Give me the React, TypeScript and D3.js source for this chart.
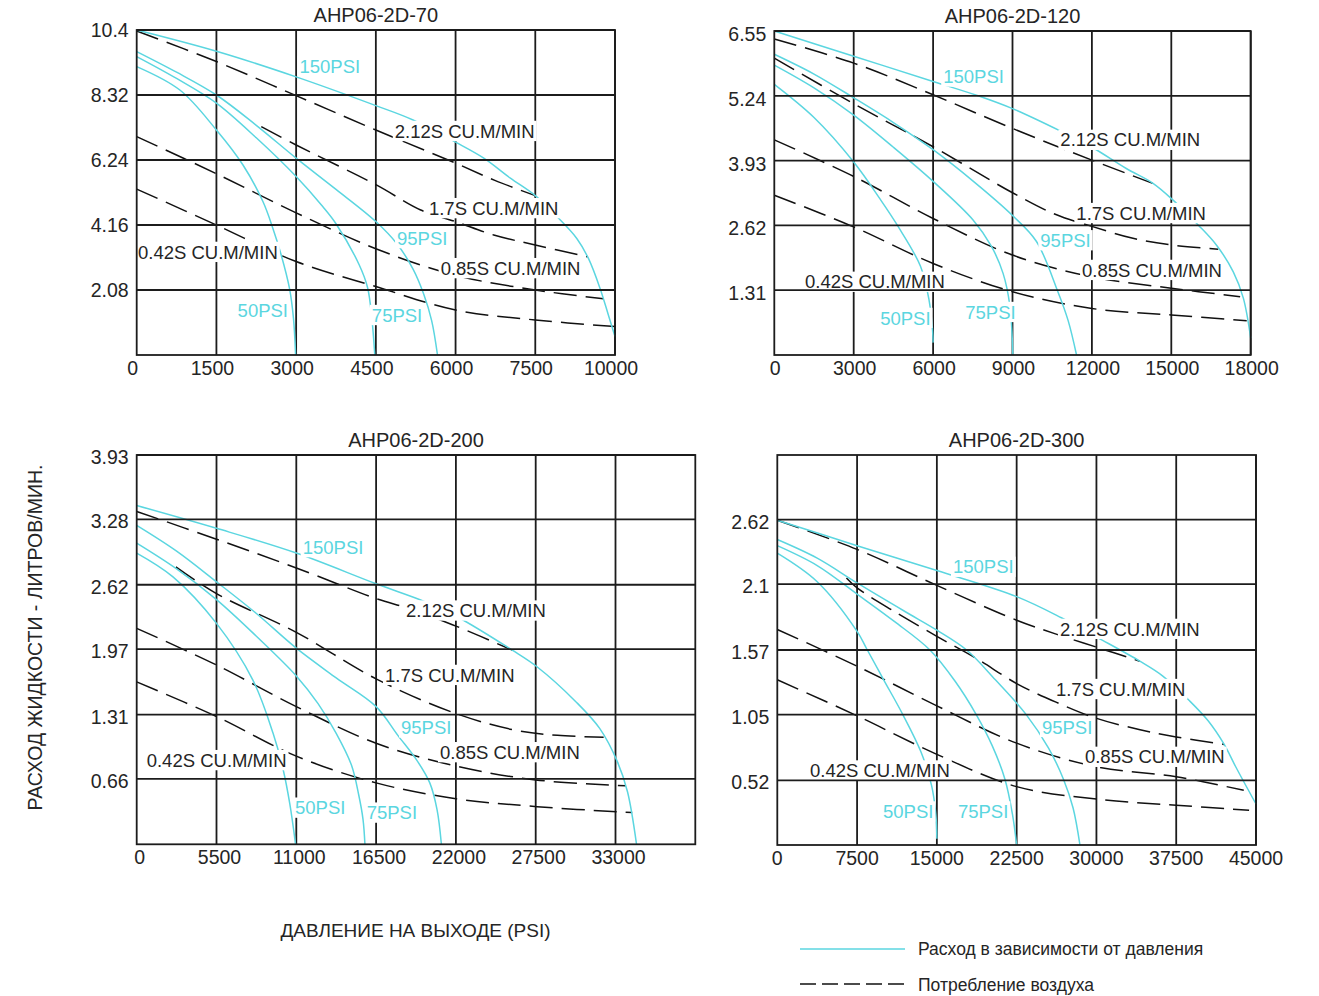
import React, { useEffect, useRef } from "react";
import * as d3 from "d3";

type Pt = [number, number];
type Label = [string, number, number];

// ---------------- AHP06-2D-70 ----------------
const P1_TITLE = "AHP06-2D-70";
const P1_X_DOMAIN = [0, 7500, 10000];
const P1_X_TICKS = [0, 1500, 3000, 4500, 6000, 7500, 10000];
const P1_Y_MAX = 10.4;
const P1_Y_TICKS = [2.08, 4.16, 6.24, 8.32, 10.4];
const P1_FLOW_50: Pt[] = [[0, 9.23], [812, 8.48], [1500, 7.2], [2000, 6.08], [2375, 4.91], [2563, 4.05], [2719, 3.2], [2875, 2.13], [2950, 1.17], [2990, 0]];
const P1_FLOW_75: Pt[] = [[0, 9.55], [750, 8.85], [1500, 8.06], [2250, 6.95], [3000, 5.71], [3500, 4.75], [3750, 4.2], [4188, 2.88], [4344, 2.16], [4425, 1.17], [4480, 0]];
const P1_FLOW_95: Pt[] = [[0, 9.71], [750, 9.05], [1500, 8.32], [2250, 7.35], [3000, 6.3], [3750, 5.3], [4500, 4.27], [4900, 3.55], [5200, 2.75], [5400, 1.95], [5550, 1.1], [5660, 0]];
const P1_FLOW_150: Pt[] = [[0, 10.4], [1500, 9.72], [3000, 8.9], [4500, 7.98], [5200, 7.52], [6000, 6.81], [6531, 6.3], [7031, 5.66], [7500, 5.1], [8177, 4.43], [8802, 3.73], [9167, 3.09], [9532, 2.13], [9792, 1.28], [10000, 0.59]];
const P1_AIR_212: Pt[] = [[0, 10.37], [1500, 9.39], [3000, 8.3], [4500, 7.2], [6000, 6.14], [6750, 5.58], [7500, 5.1]];
const P1_AIR_170: Pt[] = [[2344, 7.31], [3000, 6.72], [4500, 5.45], [5344, 4.64], [6000, 4.27], [6719, 3.84], [7500, 3.52], [9140, 3.14]];
const P1_AIR_085: Pt[] = [[0, 6.99], [1500, 5.8], [3000, 4.55], [4500, 3.4], [6000, 2.55], [7500, 2.08], [9640, 1.8]];
const P1_AIR_042: Pt[] = [[0, 5.31], [1500, 4.16], [3000, 2.99], [4500, 2.19], [6000, 1.44], [7500, 1.12], [10000, 0.91]];
const P1_LABELS: Label[] = [
  ["150PSI", 3062, 9.25], ["2.12S CU.M/MIN", 4856, 7.17], ["1.7S CU.M/MIN", 5499, 4.7],
  ["95PSI", 4899, 3.74], ["0.85S CU.M/MIN", 5719, 2.78], ["0.42S CU.M/MIN", 24, 3.3],
  ["50PSI", 1899, 1.44], ["75PSI", 4425, 1.28],
];

// ---------------- AHP06-2D-120 ----------------
const P2_TITLE = "AHP06-2D-120";
const P2_X_DOMAIN = [0, 18000];
const P2_X_TICKS = [0, 3000, 6000, 9000, 12000, 15000, 18000];
const P2_Y_MAX = 6.55;
const P2_Y_TICKS = [1.31, 2.62, 3.93, 5.24, 6.55];
const P2_FLOW_50: Pt[] = [[0, 5.47], [1500, 4.8], [3000, 3.9], [4000, 3.15], [4676, 2.6], [5527, 1.79], [5850, 1.1], [5980, 0.5], [6000, 0.25]];
const P2_FLOW_75: Pt[] = [[0, 5.86], [1500, 5.4], [3000, 4.85], [4500, 4.2], [6000, 3.51], [7510, 2.73], [8200, 2.2], [8644, 1.65], [8900, 1.0], [9013, 0]];
const P2_FLOW_95: Pt[] = [[0, 6.08], [1500, 5.68], [3000, 5.2], [4500, 4.7], [6000, 4.15], [7500, 3.52], [9000, 2.82], [9900, 2.3], [10700, 1.3], [11100, 0.7], [11420, 0]];
const P2_FLOW_150: Pt[] = [[0, 6.55], [3000, 6.04], [6000, 5.53], [7700, 5.24], [9000, 4.98], [10800, 4.53], [12034, 4.19], [13298, 3.77], [14309, 3.47], [15067, 3.13], [16015, 2.63], [16710, 2.22], [17342, 1.68], [17722, 1.15], [18000, 0.34]];
const P2_AIR_212: Pt[] = [[0, 6.39], [3000, 5.9], [6000, 5.26], [9000, 4.58], [12000, 3.94], [14300, 3.47]];
const P2_AIR_170: Pt[] = [[0, 6.0], [3000, 5.08], [6000, 4.21], [9000, 3.28], [10590, 2.85], [12000, 2.6], [13550, 2.36], [15067, 2.22], [16774, 2.14]];
const P2_AIR_085: Pt[] = [[0, 4.35], [3000, 3.61], [6000, 2.76], [9000, 2.02], [12000, 1.58], [15000, 1.35], [17600, 1.18]];
const P2_AIR_042: Pt[] = [[0, 3.23], [3000, 2.59], [6000, 1.85], [9000, 1.28], [12000, 0.94], [15000, 0.81], [17850, 0.69]];
const P2_LABELS: Label[] = [
  ["150PSI", 6382, 5.63], ["2.12S CU.M/MIN", 10808, 4.35], ["1.7S CU.M/MIN", 11413, 2.87],
  ["95PSI", 10052, 2.32], ["0.85S CU.M/MIN", 11629, 1.72], ["0.42S CU.M/MIN", 1161, 1.48],
  ["50PSI", 3999, 0.75], ["75PSI", 7214, 0.87],
];

// ---------------- AHP06-2D-200 ----------------
const P3_TITLE = "AHP06-2D-200";
const P3_X_DOMAIN = [0, 38500];
const P3_X_TICKS = [0, 5500, 11000, 16500, 22000, 27500, 33000];
const P3_Y_MAX = 3.93;
const P3_Y_TICKS = [0.66, 1.31, 1.97, 2.62, 3.28, 3.93];
const P3_FLOW_50: Pt[] = [[0, 2.94], [2500, 2.7], [5500, 2.23], [8000, 1.66], [9400, 1.12], [10100, 0.75], [10550, 0.41], [10950, 0]];
const P3_FLOW_75: Pt[] = [[0, 3.04], [2750, 2.78], [5500, 2.47], [8250, 2.1], [11000, 1.7], [12500, 1.42], [13750, 1.12], [14800, 0.8], [15300, 0.5], [15600, 0.25], [15730, 0]];
const P3_FLOW_95: Pt[] = [[0, 3.22], [2750, 2.96], [5500, 2.65], [8250, 2.33], [11000, 1.98], [13750, 1.68], [16500, 1.39], [18000, 1.1], [19300, 0.85], [20200, 0.62], [20700, 0.35], [21000, 0]];
const P3_FLOW_150: Pt[] = [[0, 3.42], [5500, 3.19], [11000, 2.94], [16500, 2.63], [19860, 2.45], [22050, 2.3], [25884, 1.96], [27610, 1.79], [30266, 1.44], [31909, 1.17], [33142, 0.83], [33827, 0.53], [34450, 0]];
const P3_AIR_212: Pt[] = [[0, 3.36], [5500, 3.08], [11000, 2.79], [16500, 2.48], [18760, 2.38], [22050, 2.2], [25884, 1.96]];
const P3_AIR_170: Pt[] = [[2700, 2.8], [5500, 2.53], [11000, 2.14], [16500, 1.67], [22000, 1.32], [26158, 1.15], [29000, 1.1], [32184, 1.08]];
const P3_AIR_085: Pt[] = [[0, 2.18], [5500, 1.81], [11000, 1.39], [16500, 1.02], [22000, 0.79], [27500, 0.65], [33700, 0.59]];
const P3_AIR_042: Pt[] = [[0, 1.64], [5500, 1.29], [11000, 0.89], [16500, 0.62], [22000, 0.46], [27600, 0.38], [34150, 0.32]];
const P3_LABELS: Label[] = [
  ["150PSI", 11441, 3.0], ["2.12S CU.M/MIN", 18560, 2.36], ["1.7S CU.M/MIN", 17113, 1.71],
  ["95PSI", 18216, 1.18], ["0.85S CU.M/MIN", 20903, 0.93], ["0.42S CU.M/MIN", 689, 0.85],
  ["50PSI", 10910, 0.37], ["75PSI", 15852, 0.32],
];

// ---------------- AHP06-2D-300 ----------------
const P4_TITLE = "AHP06-2D-300";
const P4_X_DOMAIN = [0, 45000];
const P4_X_TICKS = [0, 7500, 15000, 22500, 30000, 37500, 45000];
const P4_Y_MAX = 3.14;
const P4_Y_TICKS = [0.52, 1.05, 1.57, 2.1, 2.62];
const P4_FLOW_50: Pt[] = [[0, 2.35], [3750, 2.12], [7500, 1.72], [8400, 1.58], [10000, 1.33], [11800, 1.05], [13500, 0.75], [14500, 0.48], [14900, 0.25], [15000, 0.05]];
const P4_FLOW_75: Pt[] = [[0, 2.41], [3750, 2.25], [7500, 2.02], [11000, 1.8], [14350, 1.57], [16700, 1.32], [18700, 1.05], [20200, 0.8], [21400, 0.53], [22100, 0.25], [22500, 0]];
const P4_FLOW_95: Pt[] = [[0, 2.46], [3750, 2.31], [7500, 2.11], [12000, 1.88], [15000, 1.73], [17800, 1.57], [20500, 1.33], [23400, 1.05], [25500, 0.78], [26900, 0.53], [27800, 0.3], [28450, 0]];
const P4_FLOW_150: Pt[] = [[0, 2.615], [7500, 2.41], [15000, 2.21], [22500, 2.0], [26700, 1.83], [30110, 1.67], [34077, 1.48], [36240, 1.36], [38764, 1.16], [40500, 1.0], [42009, 0.81], [43092, 0.63], [45000, 0.33]];
const P4_AIR_212: Pt[] = [[0, 2.615], [7500, 2.38], [15000, 2.09], [22500, 1.81], [26144, 1.7], [30110, 1.59], [34077, 1.48]];
const P4_AIR_170: Pt[] = [[6500, 2.15], [7500, 2.07], [11000, 1.88], [15000, 1.68], [18750, 1.5], [22500, 1.3], [26200, 1.15], [30000, 1.02], [34000, 0.93], [37500, 0.87], [42000, 0.81]];
const P4_AIR_085: Pt[] = [[0, 1.735], [7500, 1.44], [15000, 1.12], [22500, 0.82], [30000, 0.63], [37500, 0.55], [43850, 0.44]];
const P4_AIR_042: Pt[] = [[0, 1.33], [7500, 1.04], [15000, 0.73], [22500, 0.47], [30000, 0.37], [37500, 0.32], [44350, 0.28]];
const P4_LABELS: Label[] = [
  ["150PSI", 16512, 2.24], ["2.12S CU.M/MIN", 26568, 1.74], ["1.7S CU.M/MIN", 26192, 1.256],
  ["95PSI", 24877, 0.95], ["0.85S CU.M/MIN", 28918, 0.71], ["0.42S CU.M/MIN", 3073, 0.6],
  ["50PSI", 9934, 0.27], ["75PSI", 16982, 0.27],
];

const X_TITLE = "ДАВЛЕНИЕ НА ВЫХОДЕ (PSI)";
const Y_TITLE = "РАСХОД ЖИДКОСТИ - ЛИТРОВ/МИН.";
const LEGEND_FLOW = "Расход в зависимости от давления";
const LEGEND_AIR = "Потребление воздуха";

// ---------------- layout / style ----------------
const FONT = "'Liberation Sans', Arial, Helvetica, sans-serif";
const CYAN = "#5bd6e0";
const INK = "#1c1c1c";
const TEXT = "#252525";

const PANELS = [
  { title: P1_TITLE, xDomain: P1_X_DOMAIN, xFrac: [0, 5 / 6, 1], xTicks: P1_X_TICKS, yMax: P1_Y_MAX, yTicks: P1_Y_TICKS,
    flow: [P1_FLOW_50, P1_FLOW_75, P1_FLOW_95, P1_FLOW_150], air: [P1_AIR_212, P1_AIR_170, P1_AIR_085, P1_AIR_042], labels: P1_LABELS,
    box: { left: 136.7, right: 615, top: 30, bottom: 355 }, xdx: -4, ydy: 0 },
  { title: P2_TITLE, xDomain: P2_X_DOMAIN, xFrac: [0, 1], xTicks: P2_X_TICKS, yMax: P2_Y_MAX, yTicks: P2_Y_TICKS,
    flow: [P2_FLOW_50, P2_FLOW_75, P2_FLOW_95, P2_FLOW_150], air: [P2_AIR_212, P2_AIR_170, P2_AIR_085, P2_AIR_042], labels: P2_LABELS,
    box: { left: 774.3, right: 1250.7, top: 31, bottom: 355 }, xdx: 1, ydy: 3 },
  { title: P3_TITLE, xDomain: P3_X_DOMAIN, xFrac: [0, 1], xTicks: P3_X_TICKS, yMax: P3_Y_MAX, yTicks: P3_Y_TICKS,
    flow: [P3_FLOW_50, P3_FLOW_75, P3_FLOW_95, P3_FLOW_150], air: [P3_AIR_212, P3_AIR_170, P3_AIR_085, P3_AIR_042], labels: P3_LABELS,
    box: { left: 136.7, right: 695.3, top: 455, bottom: 844.3 }, xdx: 3, ydy: 2 },
  { title: P4_TITLE, xDomain: P4_X_DOMAIN, xFrac: [0, 1], xTicks: P4_X_TICKS, yMax: P4_Y_MAX, yTicks: P4_Y_TICKS,
    flow: [P4_FLOW_50, P4_FLOW_75, P4_FLOW_95, P4_FLOW_150], air: [P4_AIR_212, P4_AIR_170, P4_AIR_085, P4_AIR_042], labels: P4_LABELS,
    box: { left: 777.3, right: 1256, top: 455, bottom: 845 }, xdx: 0, ydy: 2 },
];

const TICK_FS = 19.5;
const LABEL_FS = 18.5;
const TITLE_FS = 20;

function drawPanel(svg: d3.Selection<SVGSVGElement, unknown, null, undefined>, p: typeof PANELS[number]) {
  const b = p.box;
  const x = d3.scaleLinear().domain(p.xDomain).range(p.xFrac.map((f) => b.left + f * (b.right - b.left)));
  const y = d3.scaleLinear().domain([0, p.yMax]).range([b.bottom, b.top]);
  const g = svg.append("g");
  const gV = g.append("g");
  const gCurves = g.append("g");
  const gKnock = g.append("g");
  const gH = g.append("g");
  const gText = g.append("g");
  const gFrame = g.append("g");

  // vertical grid
  gV.selectAll("line").data(p.xTicks.filter((t) => t > 0)).join("line")
    .attr("x1", (d) => x(d)).attr("x2", (d) => x(d)).attr("y1", b.top).attr("y2", b.bottom)
    .attr("stroke", INK).attr("stroke-width", 1.8);

  const line = d3.line<Pt>().x((d) => x(d[0])).y((d) => y(d[1])).curve(d3.curveCatmullRom.alpha(0.5));

  gCurves.selectAll("path.air").data(p.air).join("path").attr("class", "air")
    .attr("d", (d) => line(d) as string).attr("fill", "none").attr("stroke", "#111")
    .attr("stroke-width", 1.5).attr("stroke-dasharray", "23 9");
  gCurves.selectAll("path.flow").data(p.flow).join("path").attr("class", "flow")
    .attr("d", (d) => line(d) as string).attr("fill", "none").attr("stroke", CYAN).attr("stroke-width", 1.5);

  // horizontal grid (drawn over label knock-outs)
  gH.selectAll("line").data(p.yTicks).join("line")
    .attr("x1", b.left).attr("x2", b.right).attr("y1", (d) => y(d)).attr("y2", (d) => y(d))
    .attr("stroke", INK).attr("stroke-width", 1.8);

  // annotation labels with white knock-out
  p.labels.forEach(([txt, lx, ly]) => {
    const isFlow = txt.endsWith("PSI");
    const base = y(ly) + 0.36 * LABEL_FS;
    const t = gText.append("text").attr("x", x(lx)).attr("y", base).text(txt)
      .attr("font-family", FONT).attr("font-size", LABEL_FS).attr("fill", isFlow ? CYAN : TEXT);
    const bb = (t.node() as SVGTextElement).getBBox();
    const cap = 0.72 * LABEL_FS;
    gKnock.append("rect")
      .attr("x", bb.x - 2).attr("y", base - cap - 3.5).attr("width", bb.width + 4).attr("height", cap + 7)
      .attr("fill", "#fff");
  });

  // frame
  gFrame.append("rect").attr("x", b.left).attr("y", b.top).attr("width", b.right - b.left).attr("height", b.bottom - b.top)
    .attr("fill", "none").attr("stroke", INK).attr("stroke-width", 1.8);

  // tick labels
  gFrame.selectAll("text.xt").data(p.xTicks).join("text").attr("class", "xt")
    .attr("x", (d) => x(d) + p.xdx).attr("y", b.bottom + 13 + 0.36 * TICK_FS)
    .attr("text-anchor", "middle").attr("font-family", FONT).attr("font-size", TICK_FS).attr("fill", TEXT)
    .text((d) => String(d));
  gFrame.selectAll("text.yt").data(p.yTicks).join("text").attr("class", "yt")
    .attr("x", b.left - 8).attr("y", (d) => y(d) + 0.36 * TICK_FS + p.ydy)
    .attr("text-anchor", "end").attr("font-family", FONT).attr("font-size", TICK_FS).attr("fill", TEXT)
    .text((d) => String(d));

  gFrame.append("text").attr("x", (b.left + b.right) / 2).attr("y", b.top - 15 + 0.36 * TITLE_FS)
    .attr("text-anchor", "middle").attr("font-family", FONT).attr("font-size", TITLE_FS).attr("fill", TEXT)
    .text(p.title);
}

export default function App() {
  const ref = useRef<SVGSVGElement>(null);
  useEffect(() => {
    if (!ref.current) return;
    const svg = d3.select(ref.current);
    svg.selectAll("*").remove();
    PANELS.forEach((p) => drawPanel(svg, p));

    svg.append("text").attr("x", 415.5).attr("y", 930 + 0.36 * 19).attr("text-anchor", "middle")
      .attr("font-family", FONT).attr("font-size", 19).attr("fill", TEXT).text(X_TITLE);
    svg.append("text").attr("transform", "translate(" + (35 + 0.36 * 19.5) + ",637.5) rotate(-90)")
      .attr("text-anchor", "middle").attr("font-family", FONT).attr("font-size", 19.5).attr("fill", TEXT).text(Y_TITLE);

    svg.append("line").attr("x1", 800).attr("x2", 905).attr("y1", 949).attr("y2", 949)
      .attr("stroke", CYAN).attr("stroke-width", 1.5);
    svg.append("line").attr("x1", 800).attr("x2", 905).attr("y1", 984).attr("y2", 984)
      .attr("stroke", "#111").attr("stroke-width", 1.5).attr("stroke-dasharray", "16 6");
    svg.append("text").attr("x", 918).attr("y", 949 + 0.36 * 17.5).attr("font-family", FONT)
      .attr("font-size", 17.5).attr("fill", TEXT).text(LEGEND_FLOW);
    svg.append("text").attr("x", 918).attr("y", 985 + 0.36 * 17.5).attr("font-family", FONT)
      .attr("font-size", 17.5).attr("fill", TEXT).text(LEGEND_AIR);
  }, []);
  return (
    <svg ref={ref} width={1319} height={996}
      style={{ position: "absolute", left: 0, top: 0, display: "block", background: "#fff" }} />
  );
}
